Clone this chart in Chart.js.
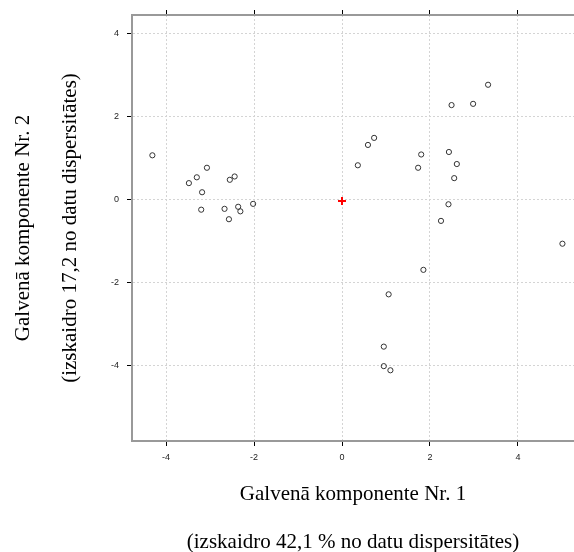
<!DOCTYPE html>
<html>
<head>
<meta charset="utf-8">
<script src="https://cdn.jsdelivr.net/npm/chart.js@4"></script>
<style>
  html, body { margin: 0; padding: 0; background: #fff; }
  canvas { display: block; }
</style>
</head>
<body>
<canvas id="pca" width="574" height="552"></canvas>
<script>
// PCA scores
const pc1 = [-4.31, -3.48, -3.30, -3.07, -3.18, -3.20, -2.55, -2.44, -2.67, -2.57, -2.36, -2.31, -2.02,
             0.36, 0.59, 0.73, 1.73, 1.80, 2.43, 2.61, 2.55, 2.49, 2.98, 3.32, 2.42, 2.25, 5.01,
             1.85, 1.06, 0.95, 0.95, 1.10];
const pc2 = [1.06, 0.39, 0.53, 0.76, 0.17, -0.25, 0.47, 0.55, -0.23, -0.48, -0.18, -0.29, -0.11,
             0.82, 1.31, 1.48, 0.76, 1.08, 1.14, 0.85, 0.51, 2.27, 2.30, 2.76, -0.12, -0.52, -1.07,
             -1.70, -2.29, -3.55, -4.02, -4.12];
const centerX = [0];
const centerY = [-0.04];

const xTicks = [-4, -2, 0, 2, 4];
const yTicks = [-4, -2, 0, 2, 4];
const xRange = [-4.773, 5.273];
const yRange = [-5.824, 4.441];

const xTitle = ['Galvenā komponente Nr. 1', '(izskaidro 42,1 % no datu dispersitātes)'];
const yTitle = ['Galvenā komponente Nr. 2', '(izskaidro 17,2 no datu dispersitātes)'];

const tickFont = { family: 'Liberation Sans', size: 9 };
const titleFont = { family: 'Liberation Serif', size: 21 };

const setTicks = vals => s => { s.ticks = vals.map(v => ({ value: v })); };

new Chart(document.getElementById('pca'), {
  type: 'scatter',
  data: {
    datasets: [
      {
        data: pc1.map((x, i) => ({ x, y: pc2[i] })),
        pointStyle: 'circle',
        pointRadius: 2.6,
        borderWidth: 1,
        borderColor: '#333',
        backgroundColor: 'rgba(0,0,0,0)'
      },
      {
        data: centerX.map((x, i) => ({ x, y: centerY[i] })),
        pointStyle: 'cross',
        pointRadius: 4,
        borderWidth: 2,
        borderColor: '#ff0000',
        backgroundColor: '#ff0000'
      }
    ]
  },
  options: {
    responsive: false,
    devicePixelRatio: 1,
    animation: false,
    layout: { padding: 0, autoPadding: false },
    plugins: { legend: { display: false }, tooltip: { enabled: false } },
    scales: {
      x: {
        type: 'linear', position: 'bottom',
        min: xRange[0], max: xRange[1],
        afterBuildTicks: setTicks(xTicks),
        afterFit: s => { s.height = 111; },
        ticks: { font: tickFont, color: '#222', padding: 6, maxRotation: 0, autoSkip: false },
        grid: { color: '#d4d4d4', lineWidth: 1, tickLength: 5, tickColor: '#000', tickWidth: 1 },
        border: { color: '#999', width: 2, dash: [2, 2] },
        title: {
          display: true, text: xTitle, color: '#000',
          font: { ...titleFont, lineHeight: '48px' },
          padding: { top: 0, bottom: -14 }
        }
      },
      x2: {
        type: 'linear', position: 'top',
        min: xRange[0], max: xRange[1],
        afterBuildTicks: setTicks(xTicks),
        afterFit: s => { s.height = 15; },
        ticks: { display: false },
        grid: { drawOnChartArea: false, tickLength: 5, tickColor: '#000', tickWidth: 1 },
        border: { color: '#999', width: 2 }
      },
      y: {
        type: 'linear', position: 'left',
        min: yRange[0], max: yRange[1],
        afterBuildTicks: setTicks(yTicks),
        afterFit: s => { s.width = 132; },
        ticks: { font: tickFont, color: '#222', padding: 8 },
        grid: { color: '#d4d4d4', lineWidth: 1, tickLength: 5, tickColor: '#000', tickWidth: 1 },
        border: { color: '#999', width: 2, dash: [2, 2] },
        title: {
          display: true, text: yTitle, color: '#000',
          font: { ...titleFont, lineHeight: '47px' },
          padding: { top: 0, bottom: 0 }
        }
      }
    }
  }
});
</script>
</body>
</html>
